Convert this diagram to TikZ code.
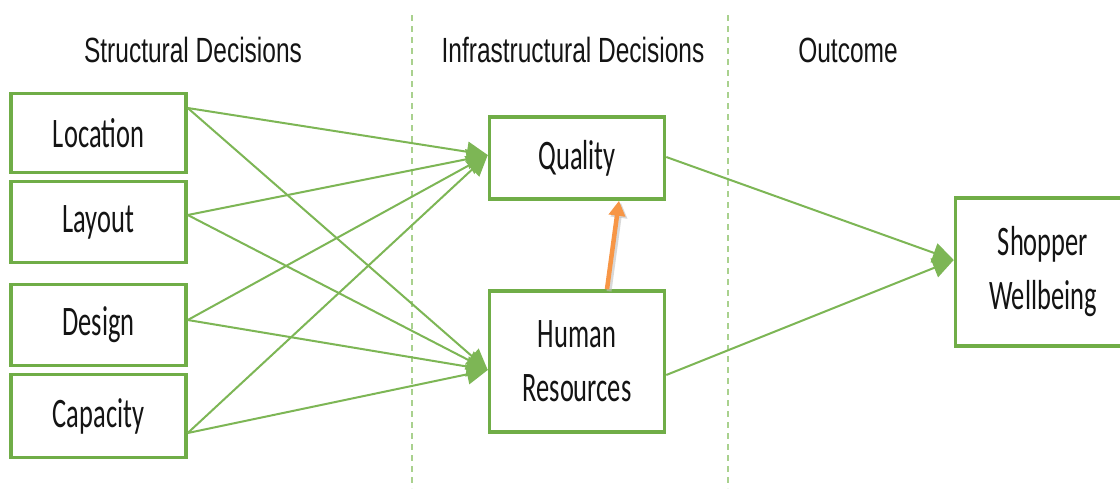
\documentclass[tikz,border=0pt]{standalone}
\usepackage{fontspec}
\usetikzlibrary{arrows.meta}
\newfontfamily\headfont[FakeStretch=0.70]{Liberation Sans}
\newfontfamily\boxfont[FakeStretch=0.63]{Carlito}
\definecolor{boxgreen}{HTML}{70AD47}
\definecolor{linkgreen}{HTML}{7DB655}
\definecolor{dashgreen}{HTML}{A9D18E}
\definecolor{linkorange}{HTML}{F79646}
\tikzset{
  stagebox/.style={draw=boxgreen, line width=3.5pt, fill=white, inner sep=0pt,
    minimum width=175pt, align=center, text=black!92,
    font={\boxfont\fontsize{42}{54}\selectfont}},
  heading/.style={text=black!92, font={\headfont\fontsize{35}{40}\selectfont}},
  divider/.style={dashgreen, line width=1.6pt, dash pattern=on 6pt off 5pt},
  link/.style={linkgreen, line width=2pt,
    -{Triangle[length=21pt,width=20pt]}},
  feedback/.style={linkorange, line width=4.5pt,
    -{Triangle[length=15pt,width=16pt]}},
}
\begin{document}
\begin{tikzpicture}[x=1pt,y=-1pt]
  \useasboundingbox (0,0) rectangle (1120,488);
  \clip (0,0) rectangle (1120,488);
  \fill[white] (0,0) rectangle (1120,488);

  % column dividers
  \coordinate (d1top) at (412,15);
  \coordinate (d1bot) at (412,488);
  \coordinate (d2top) at (728,15);
  \coordinate (d2bot) at (728,488);
  \draw[divider] (d1top) -- (d1bot);
  \draw[divider] (d2top) -- (d2bot);

  % column headings
  \node[heading] (hstruct) at (193,50) {Structural Decisions};
  \node[heading] (hinfra) at (573,50) {Infrastructural Decisions};
  \node[heading] (hout) at (848,50) {Outcome};

  % structural decisions
  \node[stagebox, minimum height=79pt] (loc) at (98.5,133) {Location};
  \node[stagebox, minimum height=81pt] (lay) at (98.5,222) {Layout};
  \node[stagebox, minimum height=81pt] (des) at (98.5,325) {Design};
  \node[stagebox, minimum height=83pt] (cap) at (98.5,416) {Capacity};

  % infrastructural decisions
  \node[stagebox, minimum height=82pt] (qual) at (577,158) {Quality};
  \node[stagebox, minimum height=141pt] (hr) at (577,361.5) {Human\\Resources};

  % outcome
  \node[stagebox, minimum height=148pt] (shop) at (1043,272) {Shopper\\Wellbeing};

  % connector end points on the box edges
  \coordinate (locout) at ([yshift=25pt]loc.east);
  \coordinate (layout) at ([yshift=7pt]lay.east);
  \coordinate (desout) at ([yshift=5pt]des.east);
  \coordinate (capout) at ([yshift=-17pt]cap.east);
  \coordinate (qualin) at ([yshift=3pt]qual.west);
  \coordinate (hrin) at ([yshift=-8.5pt]hr.west);
  \coordinate (qualout) at ([yshift=1pt]qual.east);
  \coordinate (hrout) at ([yshift=-13.5pt]hr.east);
  \coordinate (shopin) at ([yshift=12pt]shop.west);
  \coordinate (hrtop) at ([xshift=30pt]hr.north);
  \coordinate (qualbot) at ([xshift=42pt]qual.south);

  % structural -> infrastructural
  \draw[link] (locout) -- (qualin);
  \draw[link] (locout) -- (hrin);
  \draw[link] (layout) -- (qualin);
  \draw[link] (layout) -- (hrin);
  \draw[link] (desout) -- (qualin);
  \draw[link] (desout) -- (hrin);
  \draw[link] (capout) -- (qualin);
  \draw[link] (capout) -- (hrin);

  % infrastructural -> outcome
  \draw[link] (qualout) -- (shopin);
  \draw[link] (hrout) -- (shopin);

  % human resources -> quality, with a soft shadow
  \draw[black!25, line width=5pt, opacity=0.6,
    -{Triangle[length=15pt,width=16pt]}]
    ([xshift=2pt,yshift=-2pt]hrtop) -- ([xshift=2pt,yshift=-2pt]qualbot);
  \draw[feedback] (hrtop) -- (qualbot);
\end{tikzpicture}
\end{document}
